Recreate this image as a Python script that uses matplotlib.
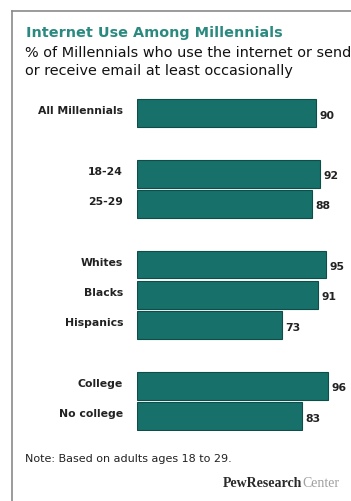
import matplotlib.pyplot as plt
from matplotlib.lines import Line2D

# Data
categories = ['All Millennials', '18-24', '25-29', 'Whites', 'Blacks',
              'Hispanics', 'College', 'No college']
values = [90, 92, 88, 95, 91, 73, 96, 83]
# row slots (blank slots separate the groups)
slots = [0, 2, 3, 5, 6, 7, 9, 10]

bar_color = '#17706a'
edge_color = '#0e4d48'
title_color = '#2b8a80'

W, H = 351, 502
fig = plt.figure(figsize=(W / 100, H / 100), dpi=100)

# axes placed in pixel coords: x 0..100 spans 199 px starting at x=137
top_px, bot_px = 98.85, 432.15
ax = fig.add_axes([137 / W, 1 - bot_px / H, 199 / W, (bot_px - top_px) / H])
ax.barh(slots, values, height=0.92, color=bar_color, edgecolor=edge_color,
        linewidth=0.8)
ax.set_xlim(0, 100)
ax.set_ylim(10.5, -0.5)
ax.set_yticks([s - 0.12 for s in slots])
ax.set_yticklabels(categories, fontsize=7.8, fontweight='bold', color='#222222')
ax.tick_params(axis='y', length=0, pad=10)
ax.set_xticks([])
for s in ax.spines.values():
    s.set_visible(False)

for y, v in zip(slots, values):
    ax.text(v + 1.5, y + 0.05, str(v), va='center', ha='left', fontsize=7.8,
            fontweight='bold', color='#222222', clip_on=False)

# frame lines (top and left)
fig.add_artist(Line2D([12 / W, 12 / W], [0, 1 - 12 / H], color='#8a8a8a', lw=1.2))
fig.add_artist(Line2D([12 / W, 1], [1 - 12 / H, 1 - 12 / H], color='#8a8a8a', lw=1.2))

fig.text(26 / W, 1 - 33 / H, 'Internet Use Among Millennials', fontsize=10.4,
         fontweight='bold', color=title_color, va='center', ha='left')
fig.text(25 / W, 1 - 53 / H, '% of Millennials who use the internet or send',
         fontsize=10.4, color='#111111', va='center', ha='left')
fig.text(25 / W, 1 - 71 / H, 'or receive email at least occasionally',
         fontsize=10.4, color='#111111', va='center', ha='left')

fig.text(25 / W, 1 - 459 / H, 'Note: Based on adults ages 18 to 29.',
         fontsize=8, color='#222222', va='center', ha='left')
pew = fig.text(223 / W, 1 - 484 / H, 'PewResearch', fontsize=10,
               family='Liberation Serif', fontweight='bold', color='#2a2a2a',
               va='center', ha='left')
fig.canvas.draw()
bb = pew.get_window_extent()
fig.text(bb.x1 / W, 1 - 484 / H, 'Center', fontsize=10, family='Liberation Serif',
         color='#a0a0a0', va='center', ha='left')

fig.savefig('out.png', dpi=100, facecolor='white')
